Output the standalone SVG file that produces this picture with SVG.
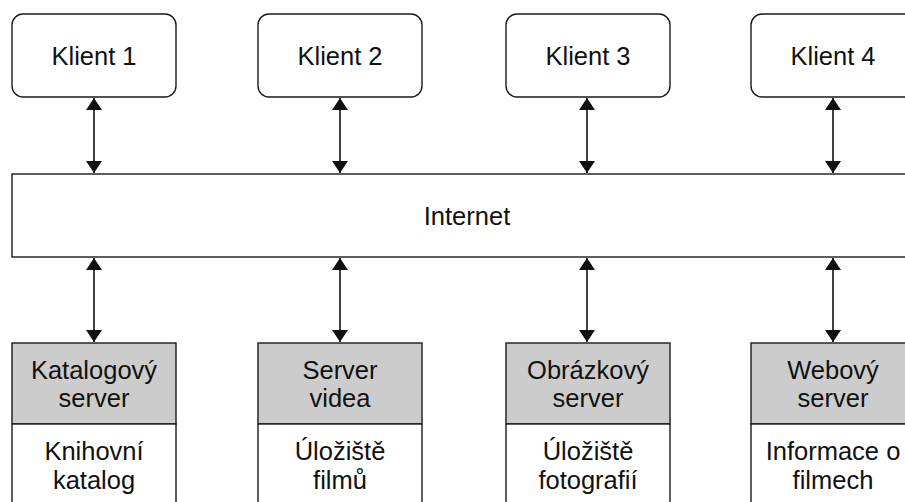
<svg xmlns="http://www.w3.org/2000/svg" width="905" height="502" viewBox="0 0 905 502">
  <defs>
    <marker id="arrow" viewBox="0 0 12 16" refX="12" refY="8" markerWidth="12" markerHeight="16" markerUnits="userSpaceOnUse" orient="auto-start-reverse">
      <path d="M0,0 L12,8 L0,16 Z" fill="#111"/>
    </marker>
    <style>
      .box { fill: #fff; stroke: #1a1a1a; stroke-width: 1.4; }
      .srv { fill: #cccccc; stroke: #1a1a1a; stroke-width: 1.4; }
      .lbl { font-family: "Liberation Sans", Arial, Helvetica, sans-serif; font-size: 25.5px; fill: #111; text-anchor: middle; }
      .conn { stroke: #111; stroke-width: 1.6; fill: none; marker-start: url(#arrow); marker-end: url(#arrow); }
    </style>
  </defs>
  <rect width="905" height="502" fill="#fff"/>

  <!-- clients -->
  <g id="klient1"><rect class="box" x="12" y="14" width="164" height="83" rx="11"/><text class="lbl" x="94" y="65">Klient 1</text></g>
  <g id="klient2"><rect class="box" x="258" y="14" width="164" height="83" rx="11"/><text class="lbl" x="340" y="65">Klient 2</text></g>
  <g id="klient3"><rect class="box" x="506" y="14" width="164" height="83" rx="11"/><text class="lbl" x="588" y="65">Klient 3</text></g>
  <g id="klient4"><rect class="box" x="751" y="14" width="164" height="83" rx="11"/><text class="lbl" x="833" y="65">Klient 4</text></g>

  <!-- network -->
  <g id="internet"><rect class="box" x="12" y="174" width="910" height="83"/><text class="lbl" x="467" y="225">Internet</text></g>

  <!-- servers -->
  <g id="katalog">
    <rect class="srv" x="12" y="343" width="164" height="81"/>
    <rect class="box" x="12" y="424" width="164" height="90"/>
    <text class="lbl" x="94" y="379">Katalogový</text><text class="lbl" x="94" y="407">server</text>
    <text class="lbl" x="94" y="460">Knihovní</text><text class="lbl" x="94" y="489">katalog</text>
  </g>
  <g id="video">
    <rect class="srv" x="258" y="343" width="164" height="81"/>
    <rect class="box" x="258" y="424" width="164" height="90"/>
    <text class="lbl" x="340" y="379">Server</text><text class="lbl" x="340" y="407">videa</text>
    <text class="lbl" x="340" y="460">Úložiště</text><text class="lbl" x="340" y="489">filmů</text>
  </g>
  <g id="obrazky">
    <rect class="srv" x="506" y="343" width="164" height="81"/>
    <rect class="box" x="506" y="424" width="164" height="90"/>
    <text class="lbl" x="588" y="379">Obrázkový</text><text class="lbl" x="588" y="407">server</text>
    <text class="lbl" x="588" y="460">Úložiště</text><text class="lbl" x="588" y="489">fotografií</text>
  </g>
  <g id="web">
    <rect class="srv" x="751" y="343" width="164" height="81"/>
    <rect class="box" x="751" y="424" width="164" height="90"/>
    <text class="lbl" x="833" y="379">Webový</text><text class="lbl" x="833" y="407">server</text>
    <text class="lbl" x="833" y="460">Informace o</text><text class="lbl" x="833" y="489">filmech</text>
  </g>

  <!-- connectors -->
  <g id="connectors">
    <line class="conn" x1="94" y1="98" x2="94" y2="173"/>
    <line class="conn" x1="340" y1="98" x2="340" y2="173"/>
    <line class="conn" x1="587" y1="98" x2="587" y2="173"/>
    <line class="conn" x1="833" y1="98" x2="833" y2="173"/>
    <line class="conn" x1="94" y1="258" x2="94" y2="342"/>
    <line class="conn" x1="340" y1="258" x2="340" y2="342"/>
    <line class="conn" x1="587" y1="258" x2="587" y2="342"/>
    <line class="conn" x1="833" y1="258" x2="833" y2="342"/>
  </g>
</svg>
